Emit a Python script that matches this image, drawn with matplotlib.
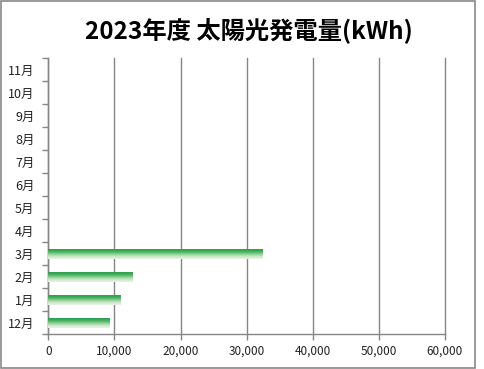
import matplotlib
matplotlib.use("Agg")
import matplotlib.pyplot as plt
import numpy as np
from matplotlib.colors import LinearSegmentedColormap
from matplotlib.patches import Rectangle

plt.rcParams['font.family'] = ['Noto Sans CJK JP', 'DejaVu Sans']

months = ['12月', '1月', '2月', '3月', '4月', '5月', '6月', '7月', '8月', '9月', '10月', '11月']
values = [9320, 10950, 12800, 32430, 0, 0, 0, 0, 0, 0, 0, 0]
xticks = [0, 10000, 20000, 30000, 40000, 50000, 60000]
title = '2023年度 太陽光発電量(kWh)'

fig = plt.figure(figsize=(4.85, 3.69), dpi=100)
ax = fig.add_axes([48.3/485, 35/369, (445-48.3)/485, (334-58.3)/369])

grad = LinearSegmentedColormap.from_list(
    'g', ['#e9f3e6', '#d4ebd0', '#a8d9a8', '#6cc27c', '#3cab57', '#2f9e4a'])
gimg = np.linspace(0, 1, 64).reshape(-1, 1)

y = np.arange(len(months))
h = 0.42
bars = ax.barh(y - 0.03, values, height=h, color='none', edgecolor='none', zorder=3)
for b in bars:
    w = b.get_width()
    if w <= 0:
        continue
    x0, y0, hh = b.get_x(), b.get_y(), b.get_height()
    ax.imshow(gimg, cmap=grad, aspect='auto', origin='lower',
              extent=[x0, x0 + w, y0, y0 + hh], zorder=3, interpolation='bilinear')

ax.set_xlim(0, 60000)
ax.set_ylim(-0.5, len(months) - 0.5)
ax.set_xticks(xticks)
ax.set_xticklabels([f'{v:,}' for v in xticks])
ax.set_yticks(y)
ax.set_yticklabels(months)
ax.set_yticks(np.arange(-0.5, len(months), 1), minor=True)

ax.grid(axis='x', color='#868686', linewidth=1.0, zorder=1)
for gl in ax.get_xgridlines():
    gl.set_clip_on(False)
ax.set_axisbelow(True)
for s in ['top', 'right']:
    ax.spines[s].set_visible(False)
for s in ['left', 'bottom']:
    ax.spines[s].set_color('#868686')
    ax.spines[s].set_linewidth(1.0)

ax.tick_params(axis='x', colors='#868686', length=4, width=1, labelcolor='#222222',
               labelsize=8.5, pad=4)
ax.tick_params(axis='y', which='major', length=0, labelcolor='#222222', labelsize=9, pad=10)
ax.tick_params(axis='y', which='minor', length=4, width=1, color='#868686')

fig.text(249/485, 1 - 30/369, title, ha='center', va='center',
         fontsize=17.5, fontweight='bold', color='#000000')

fig.patches.append(Rectangle((1/485, 1 - 367.5/369), 474/485, 366.5/369,
                             transform=fig.transFigure, fill=False,
                             edgecolor='#888888', linewidth=1.2))

fig.savefig('out.png', dpi=100)
